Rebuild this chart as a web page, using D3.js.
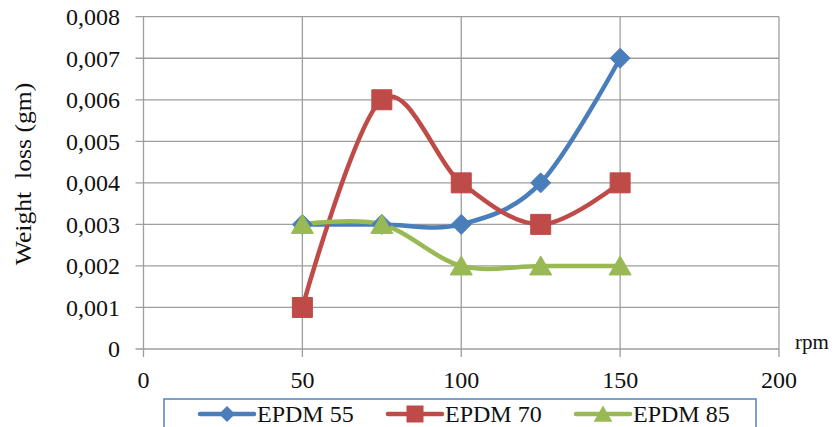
<!DOCTYPE html>
<html>
<head>
<meta charset="utf-8">
<script src="https://cdn.jsdelivr.net/npm/d3@7"></script>
<style>
  html, body { margin: 0; padding: 0; background: #fff; }
  svg { display: block; }
  svg text { font-family: 'Liberation Serif', 'Times New Roman', Times, 'DejaVu Serif', serif; }
</style>
</head>
<body>
<svg id="chart" width="833" height="427"></svg>
<script>
// Weight loss of EPDM grades versus rotation speed
const rpm = [50, 75, 100, 125, 150];
const seriesNames = ["EPDM 55", "EPDM 70", "EPDM 85"];
const epdm55 = [0.003, 0.003, 0.003, 0.004, 0.007];
const epdm70 = [0.001, 0.006, 0.004, 0.003, 0.004];
const epdm85 = [0.003, 0.003, 0.002, 0.002, 0.002];
const xTicks = [0, 50, 100, 150, 200];
const yTicks = [0, 0.001, 0.002, 0.003, 0.004, 0.005, 0.006, 0.007, 0.008];
const colors = ["#4a7ebb", "#be4b48", "#98b954"];
const markers = ["diamond", "square", "triangle"];
const serif = "'Liberation Serif', 'Times New Roman', Times, serif";

const series = seriesNames.map((name, i) => ({
  name,
  color: colors[i],
  marker: markers[i],
  values: [epdm55, epdm70, epdm85][i].map((v, j) => ({ x: rpm[j], y: v }))
}));

const svg = d3.select("#chart");
const x = d3.scaleLinear().domain([0, 200]).range([143.5, 779]);
const y = d3.scaleLinear().domain([0, 0.008]).range([349, 16.7]);
const gridColor = "#9e9e9e";
const fmt = d => d === 0 ? "0" : d3.format(".3f")(d).replace(".", ",");

// Horizontal gridlines (with outward ticks on the left)
svg.append("g").selectAll("line").data(yTicks).join("line")
  .attr("x1", x(0) - 8).attr("x2", x(200))
  .attr("y1", d => y(d)).attr("y2", d => y(d))
  .attr("stroke", gridColor).attr("stroke-width", 1.3);

// Vertical gridlines (with outward ticks below)
svg.append("g").selectAll("line").data(xTicks).join("line")
  .attr("x1", d => x(d)).attr("x2", d => x(d))
  .attr("y1", y(0.008)).attr("y2", y(0) + 8)
  .attr("stroke", gridColor).attr("stroke-width", 1.3);

// Y tick labels
svg.append("g").selectAll("text").data(yTicks).join("text")
  .attr("x", 120).attr("y", d => y(d))
  .attr("dy", "0.35em")
  .attr("text-anchor", "end")
  .attr("font-family", serif)
  .attr("font-size", 24).attr("fill", "#111")
  .text(fmt);

// X tick labels
svg.append("g").selectAll("text").data(xTicks).join("text")
  .attr("x", d => x(d)).attr("y", 388)
  .attr("text-anchor", "middle")
  .attr("font-family", serif)
  .attr("font-size", 24).attr("fill", "#111")
  .text(d => d);

// Axis titles
svg.append("text")
  .attr("transform", "translate(31,174) rotate(-90) scale(1.07,1)")
  .attr("text-anchor", "middle")
  .attr("font-family", serif)
  .attr("font-size", 24).attr("fill", "#111")
  .style("white-space", "pre")
  .text("Weight  loss (gm)");

svg.append("text")
  .attr("x", 795).attr("y", 349)
  .attr("font-family", serif)
  .attr("font-size", 21).attr("fill", "#111")
  .text("rpm");

// Smoothed series lines
const line = d3.line()
  .x(d => x(d.x)).y(d => y(d.y))
  .curve(d3.curveCatmullRom.alpha(0));

function markerPath(kind) {
  if (kind === "diamond") return "M0,-10L10,0L0,10L-10,0Z";
  if (kind === "square") return "M-10,-10H10V10H-10Z";
  return "M0,-10L11,9H-11Z";
}

const g = svg.append("g");
series.forEach(s => {
  g.append("path")
    .datum(s.values)
    .attr("d", line)
    .attr("fill", "none")
    .attr("stroke", s.color)
    .attr("stroke-width", 4.5)
    .attr("stroke-linecap", "round");
});
series.forEach(s => {
  g.append("g").selectAll("path").data(s.values).join("path")
    .attr("transform", d => `translate(${x(d.x)},${y(d.y)})`)
    .attr("d", markerPath(s.marker))
    .attr("fill", s.color)
    .attr("stroke", s.color)
    .attr("stroke-width", 1);
});

// Legend
const legend = svg.append("g");
legend.append("rect")
  .attr("x", 164).attr("y", 399)
  .attr("width", 592).attr("height", 40)
  .attr("fill", "#fff")
  .attr("stroke", "#4f81bd").attr("stroke-width", 1.5);

const legendX = [200, 388, 576];
series.forEach((s, i) => {
  const lg = legend.append("g").attr("transform", `translate(${legendX[i]},414)`);
  lg.append("line")
    .attr("x1", 0).attr("x2", 54)
    .attr("stroke", s.color).attr("stroke-width", 4.5)
    .attr("stroke-linecap", "round");
  lg.append("path")
    .attr("transform", `translate(27,0) scale(${s.marker === "diamond" ? 0.8 : 0.85})`)
    .attr("d", markerPath(s.marker))
    .attr("fill", s.color);
  lg.append("text")
    .attr("x", 57).attr("y", 8)
    .attr("font-family", serif)
    .attr("font-size", 24).attr("fill", "#111")
    .text(s.name);
});
</script>
</body>
</html>
